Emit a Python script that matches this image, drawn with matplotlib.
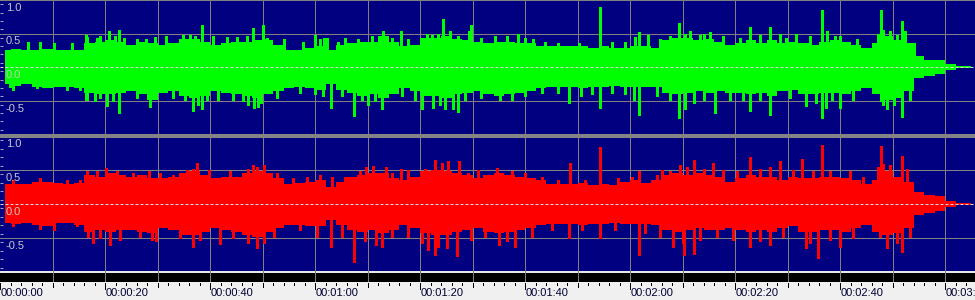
import numpy as np
import matplotlib.pyplot as plt
from matplotlib.transforms import offset_copy

plt.rcParams['font.family'] = ['Liberation Sans', 'DejaVu Sans']

# waveform envelope, one value per 2 s bin
green_top = [0.26, 0.27, 0.26, 0.26, 0.27, 0.25, 0.26, 0.25, 0.36, 0.37, 0.40, 0.38, 0.33, 0.37, 0.36, 0.33,
             0.36, 0.42, 0.42, 0.38, 0.33, 0.36, 0.37, 0.38, 0.40, 0.40, 0.33, 0.25, 0.26, 0.28, 0.31,
             0.26, 0.33, 0.36, 0.38, 0.38, 0.46, 0.38, 0.31, 0.33, 0.43, 0.43, 0.46, 0.42, 0.41, 0.38, 0.36,
             0.37, 0.38, 0.36, 0.36, 0.32, 0.31, 0.31, 0.31, 0.31, 0.28, 0.31, 0.28, 0.28, 0.31, 0.31,
             0.28, 0.41, 0.43, 0.43, 0.41, 0.42, 0.38, 0.33, 0.36, 0.41, 0.36, 0.41, 0.36, 0.38, 0.36, 0.33,
             0.37, 0.41, 0.38, 0.33, 0.28, 0.36, 0.46, 0.41, 0.36, 0.16, 0.11, 0.10, 0.05, 0.01, 0.01]
green_bot = [-0.26, -0.29, -0.26, -0.30, -0.31, -0.30, -0.30, -0.31, -0.39, -0.41, -0.41, -0.39, -0.36, -0.41, -0.49, -0.39,
             -0.36, -0.44, -0.46, -0.44, -0.36, -0.39, -0.41, -0.44, -0.46, -0.41, -0.36, -0.31, -0.30, -0.31, -0.34,
             -0.26, -0.34, -0.39, -0.44, -0.41, -0.46, -0.41, -0.31, -0.36, -0.44, -0.44, -0.46, -0.41, -0.39, -0.36, -0.41,
             -0.44, -0.41, -0.39, -0.36, -0.31, -0.30, -0.30, -0.30, -0.31, -0.30, -0.30, -0.29, -0.30, -0.30, -0.30,
             -0.30, -0.39, -0.41, -0.39, -0.36, -0.39, -0.36, -0.39, -0.39, -0.41, -0.39, -0.44, -0.36, -0.34, -0.41, -0.41,
             -0.39, -0.39, -0.41, -0.36, -0.31, -0.41, -0.49, -0.46, -0.36, -0.16, -0.13, -0.10, -0.05, -0.01, -0.01]
red_top = [0.30, 0.30, 0.30, 0.33, 0.33, 0.31, 0.30, 0.31, 0.43, 0.40, 0.45, 0.43, 0.40, 0.43, 0.38, 0.38,
           0.40, 0.45, 0.48, 0.43, 0.38, 0.40, 0.40, 0.45, 0.48, 0.45, 0.38, 0.30, 0.31, 0.33, 0.35,
           0.25, 0.33, 0.40, 0.43, 0.45, 0.45, 0.38, 0.35, 0.40, 0.48, 0.50, 0.48, 0.45, 0.43, 0.38, 0.43,
           0.45, 0.43, 0.40, 0.38, 0.35, 0.30, 0.30, 0.30, 0.31, 0.28, 0.30, 0.28, 0.33, 0.35, 0.31,
           0.35, 0.43, 0.45, 0.43, 0.45, 0.43, 0.40, 0.33, 0.38, 0.43, 0.40, 0.40, 0.35, 0.40, 0.38, 0.38,
           0.40, 0.40, 0.38, 0.35, 0.30, 0.35, 0.48, 0.40, 0.33, 0.18, 0.13, 0.12, 0.05, 0.01, 0.01]
red_bot = [-0.28, -0.29, -0.28, -0.31, -0.32, -0.28, -0.28, -0.31, -0.41, -0.38, -0.41, -0.38, -0.38, -0.41, -0.43, -0.36,
           -0.38, -0.46, -0.46, -0.41, -0.36, -0.38, -0.41, -0.46, -0.48, -0.41, -0.36, -0.31, -0.31, -0.33, -0.33,
           -0.24, -0.31, -0.38, -0.41, -0.38, -0.43, -0.38, -0.31, -0.36, -0.43, -0.46, -0.46, -0.41, -0.38, -0.36, -0.41,
           -0.43, -0.41, -0.38, -0.36, -0.31, -0.29, -0.29, -0.29, -0.31, -0.29, -0.29, -0.28, -0.29, -0.29, -0.29,
           -0.31, -0.38, -0.41, -0.38, -0.36, -0.38, -0.38, -0.36, -0.38, -0.41, -0.38, -0.41, -0.36, -0.33, -0.41, -0.41,
           -0.38, -0.38, -0.41, -0.36, -0.31, -0.41, -0.46, -0.43, -0.36, -0.16, -0.13, -0.11, -0.05, -0.01, -0.01]

# tall single-sample peaks (time in s, amplitude)
green_spike_t = [7.7, 16.4, 19.0, 20.8, 22.7, 26.0, 29.5, 34.8, 38.5, 45.1, 48.1, 50.0, 50.8, 60.0, 61.7,
                 62.2, 65.8, 73.0, 76.3, 81.3, 84.4, 85.7, 89.4, 89.8, 96.5, 98.7, 101.6, 114.2, 120.9, 121.8, 123.5,
                 129.4, 131.4, 134.0, 135.2, 142.9, 146.7, 148.6, 151.7, 156.5, 157.5, 159.0, 167.8, 168.2, 171.9, 172.4,
                 2.5, 16.4, 18.1, 20.3, 22.7, 28.6, 36.7, 38.5, 41.6, 47.3, 48.4, 49.2, 60.0,
                 63.0, 67.5, 70.0, 72.8, 80.3, 82.5, 84.8, 86.2, 87.2, 95.2, 108.4, 110.7, 114.2, 120.8, 121.8,
                 129.4, 130.5, 136.1, 142.9, 146.7, 153.6, 156.5, 157.3, 160.0, 167.8, 169.0, 171.9]
green_spike_v = [0.38, 0.48, 0.46, 0.54, 0.55, 0.42, 0.45, 0.48, 0.63, 0.45, 0.58, 0.63, 0.43, 0.48, 0.43,
                 0.43, 0.43, 0.53, 0.54, 0.50, 0.72, 0.53, 0.54, 0.62, 0.46, 0.50, 0.42, 0.90, 0.45, 0.52, 0.48,
                 0.66, 0.53, 0.50, 0.52, 0.59, 0.59, 0.50, 0.50, 0.85, 0.53, 0.46, 0.85, 0.55, 0.69, 0.53,
                 -0.34, -0.49, -0.51, -0.58, -0.68, -0.59, -0.66, -0.63, -0.49, -0.57, -0.61, -0.59, -0.41,
                 -0.61, -0.73, -0.56, -0.63, -0.63, -0.61, -0.63, -0.63, -0.67, -0.49, -0.53, -0.44, -0.61, -0.49, -0.71,
                 -0.76, -0.63, -0.68, -0.66, -0.71, -0.58, -0.76, -0.61, -0.61, -0.51, -0.63, -0.74]
red_spike_t = [16.6, 20.2, 28.3, 35.6, 37.6, 39.9, 47.3, 48.1, 50.2, 58.4,
               63.2, 68.6, 71.1, 73.5, 76.4, 82.9, 85.3, 87.5, 94.6, 108.6, 114.2, 121.8,
               126.0, 129.5, 132.2, 135.9, 142.8, 148.6, 152.7, 156.5, 161.9, 167.8, 168.2, 171.9,
               10.2, 17.7, 21.0, 29.8, 36.7, 41.9, 47.3, 48.9, 50.2,
               63.0, 67.5, 71.6, 72.7, 81.6, 82.9, 85.1, 87.1, 95.0, 98.1, 108.4, 114.2, 121.8,
               128.2, 130.3, 132.1, 142.8, 146.7, 153.6, 155.9, 160.0, 169.0, 171.9]
red_spike_v = [0.49, 0.53, 0.48, 0.50, 0.61, 0.50, 0.52, 0.57, 0.58, 0.40,
               0.40, 0.48, 0.56, 0.55, 0.52, 0.65, 0.63, 0.63, 0.53, 0.60, 0.84, 0.49,
               0.50, 0.57, 0.65, 0.61, 0.69, 0.63, 0.66, 0.87, 0.48, 0.85, 0.59, 0.71,
               -0.38, -0.58, -0.60, -0.55, -0.63, -0.59, -0.58, -0.65, -0.58,
               -0.63, -0.85, -0.60, -0.63, -0.68, -0.75, -0.64, -0.77, -0.60, -0.63, -0.50, -0.50, -0.75,
               -0.63, -0.75, -0.73, -0.63, -0.60, -0.65, -0.80, -0.63, -0.65, -0.70]

# smaller peaks just above the envelope
green_minor_t = [5.4, 10.2, 13.7, 16.6, 18.4, 21.9, 23.6, 27.9, 31.7, 36.2, 37.1, 40.6, 43.2, 47.0, 50.5, 54.0, 57.8, 61.0,
                 64.4, 68.2, 70.8, 74.6, 77.8, 82.2, 83.5, 87.3, 91.7, 94.3, 100.0, 103.8, 106.3, 110.2, 116.5, 119.0,
                 125.7, 127.6, 130.5, 133.3, 137.8, 141.0, 144.8, 149.8, 154.3, 160.0, 163.2, 167.3, 169.5, 170.8, 174.0,
                 1.9, 7.0, 12.7, 15.2, 16.6, 19.0, 21.6, 26.0, 33.0, 35.2, 37.8, 39.4, 44.4, 46.3, 49.8, 52.7, 57.1, 61.6,
                 65.1, 68.9, 71.4, 76.5, 79.0, 83.8, 88.6, 91.7, 97.5, 100.0, 103.2, 106.3, 112.7, 116.5, 119.0,
                 125.1, 127.6, 132.1, 134.0, 139.0, 141.6, 144.8, 150.5, 155.5, 158.4, 162.5, 168.2, 170.2, 173.3]
green_minor_v = [0.38, 0.36, 0.36, 0.45, 0.43, 0.47, 0.43, 0.42, 0.46, 0.48, 0.46, 0.46, 0.45, 0.46, 0.42, 0.42, 0.38, 0.42,
                 0.38, 0.42, 0.46, 0.43, 0.42, 0.48, 0.50, 0.46, 0.43, 0.46, 0.43, 0.38, 0.36, 0.36, 0.38, 0.38,
                 0.42, 0.46, 0.50, 0.48, 0.46, 0.43, 0.48, 0.43, 0.46, 0.46, 0.42, 0.50, 0.53, 0.48, 0.36,
                 -0.30, -0.31, -0.34, -0.34, -0.49, -0.46, -0.51, -0.46, -0.46, -0.49, -0.57, -0.49, -0.49, -0.51, -0.53, -0.46, -0.39, -0.44,
                 -0.44, -0.49, -0.51, -0.44, -0.49, -0.56, -0.49, -0.46, -0.49, -0.44, -0.39, -0.39, -0.41, -0.39, -0.41,
                 -0.44, -0.49, -0.53, -0.49, -0.49, -0.49, -0.49, -0.46, -0.53, -0.49, -0.49, -0.56, -0.56, -0.49]
red_minor_t = [2.5, 7.6, 12.7, 15.2, 18.4, 22.2, 25.4, 30.5, 33.0, 36.8, 43.8, 48.9, 52.7, 55.9, 61.0,
               65.7, 69.8, 74.6, 77.8, 81.0, 84.1, 89.2, 91.1, 97.5, 100.0, 103.2, 106.3, 111.4, 117.8, 120.3,
               125.1, 127.6, 130.8, 134.0, 137.8, 140.3, 144.8, 146.7, 151.1, 154.9, 158.1, 164.4, 167.3, 169.5, 172.7,
               2.5, 7.6, 14.6, 16.8, 19.0, 22.9, 26.7, 28.9, 34.3, 38.1, 44.4, 52.1, 57.1, 60.3,
               65.1, 69.5, 74.6, 77.8, 80.3, 83.5, 89.8, 92.4, 96.5, 101.3, 105.1, 110.8, 117.1, 122.9,
               125.7, 130.1, 133.3, 136.5, 139.7, 144.8, 149.2, 154.3, 158.1, 162.5, 167.6, 170.8, 173.3]
red_minor_v = [0.35, 0.38, 0.36, 0.35, 0.49, 0.48, 0.45, 0.45, 0.43, 0.51, 0.48, 0.55, 0.45, 0.38, 0.43,
               0.40, 0.55, 0.45, 0.50, 0.52, 0.60, 0.45, 0.50, 0.48, 0.45, 0.40, 0.35, 0.35, 0.38, 0.40,
               0.43, 0.48, 0.55, 0.51, 0.50, 0.48, 0.52, 0.55, 0.50, 0.48, 0.48, 0.40, 0.55, 0.57, 0.52,
               -0.33, -0.37, -0.33, -0.48, -0.50, -0.53, -0.48, -0.53, -0.50, -0.53, -0.50, -0.48, -0.38, -0.48,
               -0.48, -0.55, -0.48, -0.48, -0.58, -0.63, -0.53, -0.48, -0.55, -0.48, -0.38, -0.38, -0.38, -0.43,
               -0.48, -0.58, -0.53, -0.48, -0.53, -0.55, -0.48, -0.58, -0.53, -0.50, -0.48, -0.58, -0.48]

ylab_vals = [1.0, 0.5, 0.0, -0.5]
ylab_text = ["1.0", "0.5", "0.0", "-0.5"]
time_labels = ["00:00:00", "00:00:20", "00:00:40", "00:01:00", "00:01:20", "00:01:40",
               "00:02:00", "00:02:20", "00:02:40", "00:03:00"]

W, H = 975, 300
PX_PER_S = 5.25
T_END = W / PX_PER_S
BG = '#000080'
GRID = '#808080'
LW = 0.6  # about one device pixel with antialiasing off

t_bins = np.arange(len(green_top)) * 2 + 1

fig = plt.figure(figsize=(W / 100, H / 100), dpi=100)
fig.patch.set_facecolor('#858585')


def px_axes(top, bottom):
    return fig.add_axes([0, 1 - bottom / H, 1, (bottom - top) / H])


def draw_channel(ax, top, bot, sp_t, sp_v, mn_t, mn_v, color, ylim):
    ax.set_facecolor(BG)
    ax.set_xlim(0, T_END)
    ax.set_ylim(*ylim)
    for s in ax.spines.values():
        s.set_visible(False)
    for t in range(10, 190, 10):
        ax.axvline(t, color=GRID, lw=LW, antialiased=False, zorder=2)
    for v in (1.0, 0.5, -0.5):
        ax.axhline(v, color=GRID, lw=LW, antialiased=False, zorder=2)
    ax.fill_between(t_bins, bot, top, step='mid', color=color, lw=0, antialiased=False, zorder=3)
    ax.vlines(sp_t, 0, sp_v, color=color, lw=0.75, antialiased=False, zorder=3)
    ax.vlines(mn_t, 0, mn_v, color=color, lw=0.75, antialiased=False, zorder=3)
    ax.axhline(0, color='#d8d8d8', lw=0.72, ls=(0, (3, 2)), zorder=5)
    tr = offset_copy(ax.transData, fig=fig, x=6, y=-3, units='dots')
    for v, s in zip(ylab_vals, ylab_text):
        ax.text(0, v, s, transform=tr, ha='left', va='top', color='#c8c8c8', fontsize=8, zorder=6)
    ax.set_xticks([])
    ax.set_yticks(np.arange(-0.9375, 1, 0.125))
    ax.tick_params(axis='y', direction='in', length=2, width=0.75, color='#a0a0c0',
                   labelleft=False, pad=0)


ax_l = px_axes(0, 134)
draw_channel(ax_l, green_top, green_bot, green_spike_t, green_spike_v,
             green_minor_t, green_minor_v, '#00ff00', (-1, 1))

ax_r = px_axes(138, 282)
r_ylim = (-78 / 68, 66 / 68)
draw_channel(ax_r, red_top, red_bot, red_spike_t, red_spike_v,
             red_minor_t, red_minor_v, '#ff0000', r_ylim)
ax_r.axhspan(r_ylim[0], -1.015, color='black', lw=0, zorder=1)
ax_r.axhspan(-1.015, -0.985, color='#e8e8e8', lw=0, zorder=1)

# time ruler
ax_t = px_axes(282, 300)
ax_t.set_xlim(0, T_END)
ax_t.set_ylim(18, 0)
ax_t.axis('off')
ax_t.add_patch(plt.Rectangle((0, 0), 1, 1, transform=ax_t.transAxes, color='#f0f0f0', zorder=0))
ax_t.vlines(np.arange(0, 186, 2), 0.7, 2.7, color='black', lw=LW, antialiased=False)
ax_t.vlines(np.arange(10, 186, 20), 0.7, 4.7, color='black', lw=LW, antialiased=False)
ax_t.vlines(np.arange(0, 186, 20), 0.7, 6.7, color='black', lw=LW, antialiased=False)
for i, lab in enumerate(time_labels):
    ax_t.text(i * 20 + 1 / PX_PER_S, 10.5, lab, ha='left', va='center', fontsize=8, color='#000033')

fig.savefig('out.png', dpi=100, facecolor=fig.get_facecolor())
